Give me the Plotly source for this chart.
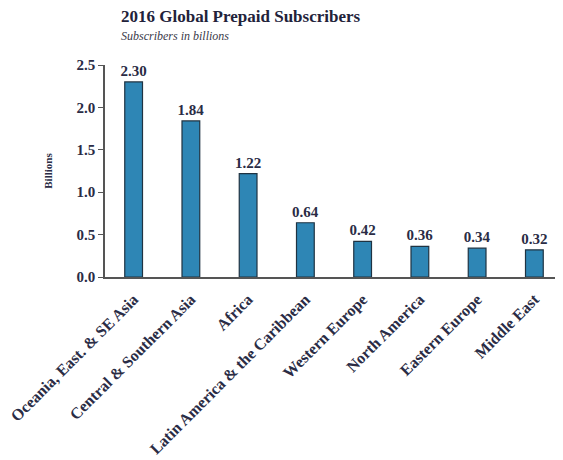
import plotly.graph_objects as go

regions = ["Oceania, East. & SE Asia", "Central & Southern Asia", "Africa",
           "Latin America & the Caribbean", "Western Europe", "North America",
           "Eastern Europe", "Middle East"]
subscribers = [2.30, 1.84, 1.22, 0.64, 0.42, 0.36, 0.34, 0.32]
y_ticks = [0, 0.5, 1.0, 1.5, 2.0, 2.5]
y_tick_labels = ["0.0", "0.5", "1.0", "1.5", "2.0", "2.5"]

serif = "Liberation Serif, Times New Roman, serif"
ink = "#2a2c45"

W, H = 555, 452
L, T, B = 95, 57, 183
PH = H - T - B
PW = W - L

fig = go.Figure(go.Bar(
    x=regions, y=subscribers,
    marker=dict(color="#2e86b5", line=dict(color="#1f3342", width=1.2)),
    text=[f"<b>{v:.2f}</b>" for v in subscribers], textposition="outside",
    textfont=dict(family=serif, size=15, color=ink),
    constraintext="none",
    cliponaxis=False,
))

fig.update_layout(
    width=W, height=H,
    margin=dict(l=L, r=0, t=T, b=B),
    paper_bgcolor="white", plot_bgcolor="white",
    bargap=0.69,
    showlegend=False,
    font=dict(family=serif, color=ink),
)
fig.add_annotation(text="<b>2016 Global Prepaid Subscribers</b>", xref="paper", yref="paper",
                   x=(109 - L) / PW, y=1 + (T - 8) / PH, xanchor="left", yanchor="middle",
                   showarrow=False, font=dict(size=17, color="#22223a", family=serif))
fig.add_annotation(text="<i>Subscribers in billions</i>", xref="paper", yref="paper",
                   x=(109 - L) / PW, y=1 + (T - 28) / PH, xanchor="left", yanchor="middle",
                   showarrow=False, font=dict(size=12, color="#3a3a4a", family=serif))

fig.update_xaxes(
    tickangle=-45, tickfont=dict(family=serif, size=16, color=ink),
    showline=True, linecolor="#555", linewidth=1.5, ticks="", showgrid=False,
    tickprefix="<b>", ticksuffix="</b>", ticklabelstandoff=5,
)
fig.update_yaxes(
    range=[0, 2.5], tickvals=y_ticks, ticktext=[f"<b>{t}</b>" for t in y_tick_labels],
    tickfont=dict(family=serif, size=15, color=ink),
    showline=True, linecolor="#555", linewidth=1.5, ticks="outside", ticklen=5,
    tickcolor="#555", showgrid=False, zeroline=False,
    title=dict(text="<b>Billions</b>", font=dict(family=serif, size=11, color=ink), standoff=22),
)

fig.write_html("out.html")
